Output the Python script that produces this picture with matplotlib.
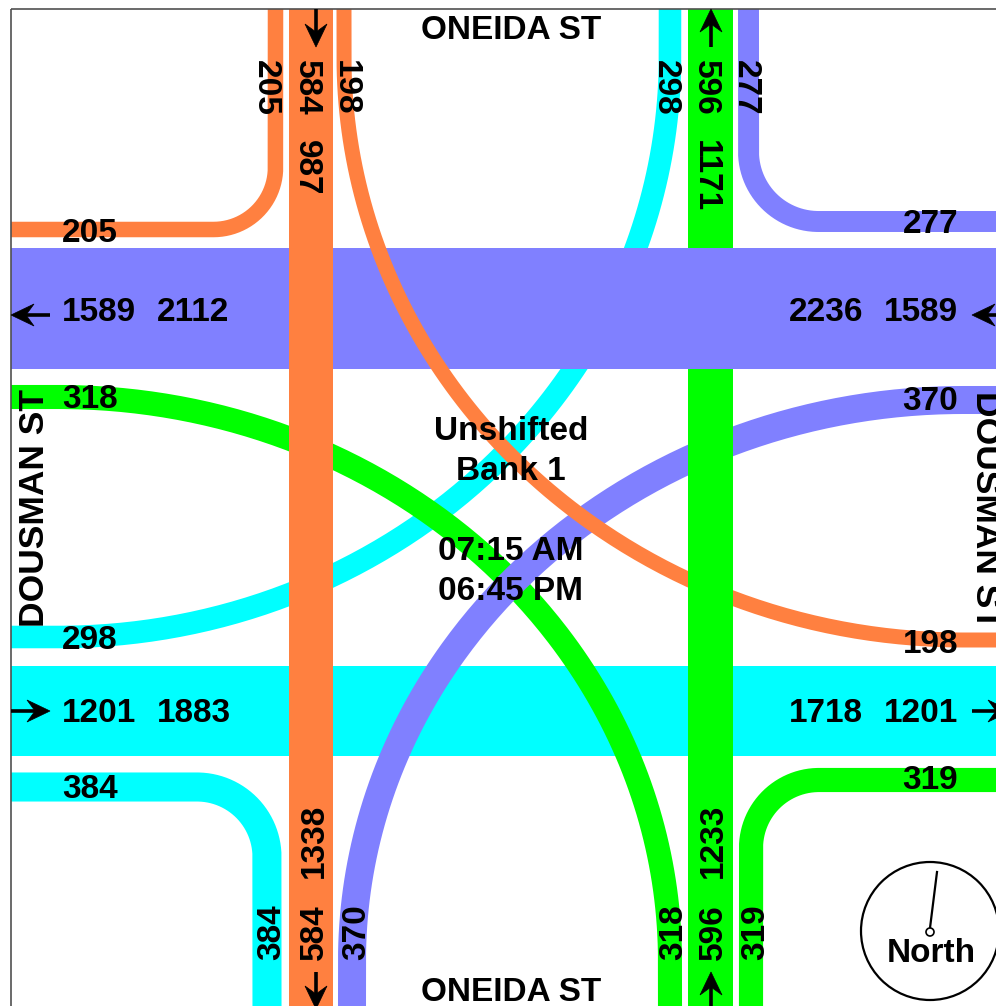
import numpy as np
import matplotlib.pyplot as plt
from matplotlib.patches import Rectangle, Circle, Polygon

# turning volumes per approach: right, through, left
sb = [205, 584, 198]   # southbound (from north)
wb = [277, 1589, 370]  # westbound (from east)
nb = [319, 596, 318]   # northbound (from south)
eb = [384, 1201, 298]  # eastbound (from west)

street_ns = 'ONEIDA ST'
street_ew = 'DOUSMAN ST'
title_lines = ['Unshifted', 'Bank 1']
time_lines = ['07:15 AM', '06:45 PM']

ORANGE = '#FF8040'
BLUE = '#8080FF'
CYAN = '#00FFFF'
GREEN = '#00FF00'

PX = 0.0757                     # band width in pixels per vehicle
L, T, R, B = 11, 9, 1011, 1009  # diagram frame (pixels)
M = 48                          # left turn ellipse centre offset from frame
FONT = 'Liberation Sans'

fig = plt.figure(figsize=(9.96, 10.06), dpi=100)
ax = fig.add_axes([0, 0, 1, 1])
ax.set_xlim(0, 996)
ax.set_ylim(1006, 0)
ax.axis('off')


def width(vol):
    return vol * PX


def turn(vol, color, x_v, y_end, y_h, x_end, center, z):
    cx, cy = center
    th = np.linspace(0, np.pi / 2, 200)
    xs = cx + (x_v - cx) * np.cos(th)
    ys = cy + (y_h - cy) * np.sin(th)
    xs = np.concatenate([[x_v], xs, [x_end]])
    ys = np.concatenate([[y_end], ys, [y_h]])
    ax.plot(xs, ys, color=color, lw=width(vol) * 0.72,
            solid_capstyle='butt', solid_joinstyle='round', zorder=z)


def left_turn(vol, color, x_v, y_end, y_h, x_end, z):
    cx = x_end - M * np.sign(x_end - x_v)
    cy = y_end - M * np.sign(y_end - y_h)
    turn(vol, color, x_v, y_end, y_h, x_end, (cx, cy), z)


def right_turn(vol, color, x_v, y_end, y_h, x_end, r, z):
    cx = x_v + r * np.sign(x_end - x_v)
    cy = y_h + r * np.sign(y_end - y_h)
    turn(vol, color, x_v, y_end, y_h, x_end, (cx, cy), z)


# through bands
sb_x, nb_x = 311, 710.5
wb_y, eb_y = 308.5, 711

w = width(eb[1])
ax.add_patch(Rectangle((L, eb_y - w / 2), R - L, w, color=CYAN, lw=0, zorder=1))

# left turns
left_turn(eb[2], CYAN, 670, T, 637, L, 2)
left_turn(nb[2], GREEN, 670, B, 397, L, 3)
left_turn(wb[2], BLUE, 352, B, 400, R, 4)

w = width(wb[1])
ax.add_patch(Rectangle((L, wb_y - w / 2), R - L, w, color=BLUE, lw=0, zorder=5))
wb_top, wb_bot = wb_y - w / 2, wb_y + w / 2

left_turn(sb[2], ORANGE, 344, T, 640, R, 6)

w = width(nb[1])
ax.add_patch(Rectangle((nb_x - w / 2, T), w, wb_top - T, color=GREEN, lw=0, zorder=7))
ax.add_patch(Rectangle((nb_x - w / 2, wb_bot), w, B - wb_bot, color=GREEN, lw=0, zorder=7))

w = width(sb[1])
ax.add_patch(Rectangle((sb_x - w / 2, T), w, B - T, color=ORANGE, lw=0, zorder=8))

# right turns
right_turn(sb[0], ORANGE, 275.5, T, 229.5, L, 62, 6)
right_turn(wb[0], BLUE, 748.5, T, 221.5, R, 70, 6)
right_turn(eb[0], CYAN, 267, B, 787, L, 70, 6)
right_turn(nb[0], GREEN, 751, B, 780, R, 68, 6)

# frame
ax.add_patch(Rectangle((L, T), R - L, B - T, fill=False, ec='#505050', lw=1.2, zorder=9))


def label(x, y, s, rot=0, ha='center', size=24):
    ax.text(x, y, s, rotation=rot, rotation_mode='anchor', ha=ha,
            va='center_baseline', fontsize=size, fontweight='bold',
            family=FONT, color='black', zorder=20)


sb_in, nb_in = sum(sb), sum(nb)
wb_in, eb_in = sum(wb), sum(eb)
n_out = wb[0] + nb[1] + eb[2]
s_out = eb[0] + sb[1] + wb[2]
w_out = sb[0] + wb[1] + nb[2]
e_out = nb[0] + eb[1] + sb[2]

# north leg
label(269, 60, str(sb[0]), 270, 'left')
label(310, 60, str(sb[1]), 270, 'left')
label(310, 140, str(sb_in), 270, 'left')
label(349, 60, str(sb[2]), 270, 'left')
label(669, 60, str(eb[2]), 270, 'left')
label(709, 60, str(nb[1]), 270, 'left')
label(709, 140, str(n_out), 270, 'left')
label(749, 60, str(wb[0]), 270, 'left')

# south leg
label(268, 960, str(eb[0]), 90, 'left')
label(311, 960, str(sb[1]), 90, 'left')
label(311, 878, str(s_out), 90, 'left')
label(353, 960, str(wb[2]), 90, 'left')
label(670, 960, str(nb[2]), 90, 'left')
label(710, 960, str(nb[1]), 90, 'left')
label(710, 878, str(nb_in), 90, 'left')
label(752, 960, str(nb[0]), 90, 'left')

# west leg
label(62, 230, str(sb[0]), ha='left')
label(62, 309, str(wb[1]), ha='left')
label(157, 309, str(w_out), ha='left')
label(62, 396, str(nb[2]), ha='left')
label(62, 637, str(eb[2]), ha='left')
label(62, 710, str(eb[1]), ha='left')
label(157, 710, str(eb_in), ha='left')
label(62, 786, str(eb[0]), ha='left')

# east leg
label(958, 221, str(wb[0]), ha='right')
label(958, 309, str(wb[1]), ha='right')
label(863, 309, str(wb_in), ha='right')
label(958, 398, str(wb[2]), ha='right')
label(958, 641, str(sb[2]), ha='right')
label(958, 710, str(eb[1]), ha='right')
label(863, 710, str(e_out), ha='right')
label(958, 777, str(nb[0]), ha='right')

# street names and centre text
label(511, 27, street_ns)
label(511, 989, street_ns)
label(31, 508, street_ew, 90, size=25.5)
label(989, 510, street_ew, 270, size=25.5)
label(511, 428, title_lines[0])
label(511, 468, title_lines[1])
label(511, 548, time_lines[0])
label(511, 588, time_lines[1])


def arrow(tail, tip):
    # shaft plus barbed head, sizes in pixels
    tail, tip = np.array(tail, float), np.array(tip, float)
    d = (tip - tail) / np.hypot(*(tip - tail))
    n = np.array([-d[1], d[0]])
    notch = tip - d * 15
    ax.plot([tail[0], notch[0]], [tail[1], notch[1]], color='black',
            lw=2.6, solid_capstyle='butt', zorder=21)
    head = [tip, tip - d * 23 + n * 11, notch, tip - d * 23 - n * 11]
    ax.add_patch(Polygon(head, closed=True, fc='black', ec='black', lw=0.5, zorder=21))


arrow((316, T), (316, 47))
arrow((711, 47), (711, T))
arrow((316, 972), (316, B))
arrow((711, B), (711, 972))
arrow((50, 315), (L, 315))
arrow((R, 315), (972, 315))
arrow((L, 711), (50, 711))
arrow((972, 711), (R, 711))

# north compass
ax.add_patch(Circle((930, 931), 69, fill=False, ec='black', lw=1.6, zorder=21))
ax.plot([930, 937], [928, 872], color='black', lw=1.6, zorder=21)
ax.add_patch(Circle((930, 932), 4, fc='white', ec='black', lw=1.2, zorder=22))
label(931, 950, 'North')

fig.savefig('out.png', dpi=100)
